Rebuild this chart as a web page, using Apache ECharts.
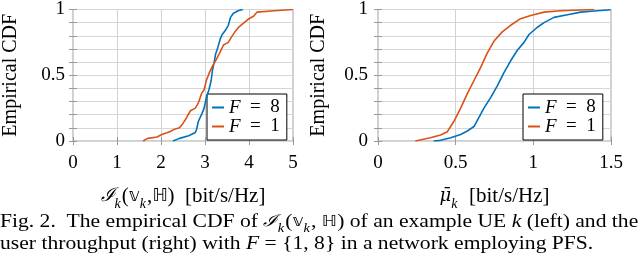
<!DOCTYPE html>
<html><head><meta charset="utf-8">
<script src="https://cdn.jsdelivr.net/npm/echarts@6/dist/echarts.min.js"></script>
<style>html,body{margin:0;padding:0;background:#fff}#c{width:640px;height:257px}</style>
</head><body><div id="c"></div>
<script>
// Left panel: empirical CDF of I_k(v_k, H)
const leftF8X = [2.27,2.42,2.63,2.78,2.81,2.85,2.92,2.98,3.03,3.09,3.14,3.17,3.21,3.24,3.29,3.35,3.39,3.46,3.53,3.58,3.64,3.75,3.86];
const leftF8Y = [0,0.02,0.04,0.064,0.09,0.15,0.20,0.25,0.33,0.39,0.46,0.54,0.60,0.66,0.71,0.78,0.81,0.84,0.88,0.94,0.97,0.99,1.0];
const leftF1X = [1.59,1.70,1.91,2.02,2.20,2.31,2.42,2.49,2.56,2.60,2.67,2.78,2.85,2.92,2.98,3.03,3.10,3.17,3.24,3.32,3.42,3.53,3.60,3.68,3.78,3.89,4.00,4.11,4.18,4.58,5.0];
const leftF1Y = [0,0.02,0.03,0.05,0.07,0.09,0.10,0.13,0.165,0.19,0.23,0.25,0.29,0.36,0.39,0.46,0.52,0.57,0.61,0.66,0.73,0.75,0.79,0.83,0.87,0.90,0.93,0.95,0.98,0.99,1.0];
// Right panel: empirical CDF of user throughput
const rightF8X = [0.358,0.403,0.468,0.532,0.575,0.618,0.65,0.682,0.725,0.768,0.811,0.854,0.897,0.94,0.972,1.026,1.069,1.133,1.219,1.305,1.412,1.498];
const rightF8Y = [0,0.005,0.025,0.05,0.076,0.11,0.18,0.25,0.33,0.42,0.52,0.61,0.69,0.75,0.81,0.865,0.90,0.94,0.96,0.98,0.99,0.998];
const rightF1X = [0.24,0.337,0.403,0.446,0.489,0.532,0.575,0.618,0.661,0.704,0.747,0.80,0.854,0.918,0.983,1.069,1.176,1.39];
const rightF1Y = [0,0.025,0.045,0.07,0.15,0.25,0.36,0.46,0.56,0.67,0.76,0.83,0.88,0.93,0.955,0.98,0.99,1.0];
const seriesNames = ['F = 8', 'F = 1'];
const leftXTicks = [0,1,2,3,4,5];
const rightXTicks = [0,0.5,1,1.5];
const yTicks = [0,0.5,1];

const BLUE = '#0072BD', ORANGE = '#D95319';
const SERIF = 'Liberation Serif, Times New Roman, serif';
const DSERIF = 'DejaVu Serif, serif';
const DSANS = 'DejaVu Sans, sans-serif';
const zip = (xs, ys) => xs.map((x, i) => [x, ys[i]]);

const rich = {
  n: {fontFamily: SERIF, fontSize: 21, color: '#000'},
  i: {fontFamily: DSERIF, fontSize: 18, fontStyle: 'italic', color: '#000'},
  m: {fontFamily: DSERIF, fontSize: 19, fontStyle: 'italic', color: '#000'},
  d: {fontFamily: DSANS, fontSize: 18, color: '#000'},
  sub: {fontFamily: SERIF, fontSize: 14, fontStyle: 'italic', color: '#000', verticalAlign: 'bottom', padding: [0,1,-4,0]}
};
const capRich = {
  n: {fontFamily: SERIF, fontSize: 18, color: '#000'},
  i: {fontFamily: SERIF, fontSize: 18, fontStyle: 'italic', color: '#000'},
  m: {fontFamily: DSERIF, fontSize: 16, fontStyle: 'italic', color: '#000'},
  d: {fontFamily: DSANS, fontSize: 15, color: '#000'},
  sub: {fontFamily: SERIF, fontSize: 12, fontStyle: 'italic', color: '#000', verticalAlign: 'bottom', padding: [0,1,-4,0]}
};

function xAxisMain(gi, max, interval, ticks, name, nameGap) {
  return {
    type: 'value', gridIndex: gi, min: 0, max: max, interval: interval,
    axisLine: {show: false},
    axisTick: {show: true, inside: true, length: 4, lineStyle: {color: '#999'}},
    axisLabel: {fontFamily: SERIF, fontSize: 19, color: '#000', margin: 13,
      formatter: v => ticks.includes(+v.toFixed(3)) ? String(+v.toFixed(3)) : ''},
    splitLine: {show: true, lineStyle: {color: '#d2d2d2', width: 1}},
    name: name, nameLocation: 'middle', nameGap: nameGap,
    nameTextStyle: {fontFamily: SERIF, fontSize: 21, rich: rich}
  };
}
function xAxisTop(gi, max, interval) {
  return {type: 'value', gridIndex: gi, position: 'top', min: 0, max: max, interval: interval,
    axisLine: {show: false}, axisLabel: {show: false}, splitLine: {show: false},
    axisTick: {show: true, inside: true, length: 4, lineStyle: {color: '#999'}}};
}
function yAxisMain(gi, nameGap, labelMargin) {
  return {
    type: 'value', gridIndex: gi, min: 0, max: 1, interval: 0.5,
    axisLine: {show: false},
    axisTick: {show: true, inside: true, length: 4, lineStyle: {color: '#999'}},
    minorTick: {show: true, splitNumber: 5, length: 4, lineStyle: {color: '#999'}},
    axisLabel: {fontFamily: SERIF, fontSize: 19, color: '#000', margin: labelMargin,
      formatter: v => String(v)},
    splitLine: {show: true, lineStyle: {color: '#d6d6d6'}},
    minorSplitLine: {show: true, lineStyle: {color: '#d6d6d6'}},
    name: 'Empirical CDF', nameLocation: 'middle', nameRotate: 90, nameGap: nameGap,
    nameTextStyle: {fontFamily: SERIF, fontSize: 20, color: '#000'}
  };
}
function yAxisRight(gi) {
  return {type: 'value', gridIndex: gi, position: 'right', min: 0, max: 1, interval: 0.5,
    axisLine: {show: false}, axisLabel: {show: false}, splitLine: {show: false},
    axisTick: {show: true, inside: true, length: 4, lineStyle: {color: '#999'}},
    minorTick: {show: true, splitNumber: 5, length: 4, lineStyle: {color: '#999'}}};
}
function legend(left, top) {
  return {
    data: seriesNames, orient: 'vertical', left: left, top: top,
    backgroundColor: '#fff', borderColor: '#000', borderWidth: 1, borderRadius: 0,
    padding: [4, 7, 4, 5], itemGap: 0, itemWidth: 12, itemHeight: 2, icon: 'rect',
    selectedMode: false,
    formatter: n => '{i|F}{n|  =  ' + n.split('= ')[1] + '}',
    textStyle: {fontFamily: SERIF, fontSize: 19, color: '#000', lineHeight: 17,
      rich: {i: {fontFamily: SERIF, fontSize: 19, fontStyle: 'italic', lineHeight: 17},
             n: {fontFamily: SERIF, fontSize: 19, lineHeight: 17}}}
  };
}
function line(name, color, xi, yi, xs, ys) {
  return {type: 'line', name: name, xAxisIndex: xi, yAxisIndex: yi,
    data: zip(xs, ys), showSymbol: false, symbol: 'none',
    lineStyle: {color: color, width: 1.6}, itemStyle: {color: color}, z: 5, animation: false};
}

const chart = echarts.init(document.getElementById('c'), null, {renderer: 'canvas'});
chart.setOption({
  animation: false,
  grid: [
    {left: 61, top: 9, width: 232, height: 132, show: true, borderColor: '#a0a0a0', borderWidth: 1, backgroundColor: 'transparent'},
    {left: 378, top: 9, width: 233, height: 132, show: true, borderColor: '#a0a0a0', borderWidth: 1, backgroundColor: 'transparent'}
  ],
  xAxis: [
    xAxisMain(0, 5, 1, leftXTicks, '{m|ℐ}{sub|k}{n|(}{d|𝕧}{sub|k}{n|,}{d|ℍ}{n|)  [bit/s/Hz]}', 45),
    xAxisMain(1, 1.5, 0.5, rightXTicks, '{i|μ̄}{sub|k}{n|  [bit/s/Hz]}', 45),
    xAxisTop(0, 5, 1), xAxisTop(1, 1.5, 0.5)
  ],
  yAxis: [yAxisMain(0, 52, 8), yAxisMain(1, 49, 10), yAxisRight(0), yAxisRight(1)],
  legend: [legend(207, 94), legend(523, 94)],
  series: [
    line(seriesNames[0], BLUE, 0, 0, leftF8X, leftF8Y),
    line(seriesNames[1], ORANGE, 0, 0, leftF1X, leftF1Y),
    line(seriesNames[0], BLUE, 1, 1, rightF8X, rightF8Y),
    line(seriesNames[1], ORANGE, 1, 1, rightF1X, rightF1Y)
  ],
  graphic: [
    {type: 'text', x: 0, y: 213, scaleX: 1.2, scaleY: 1, originX: 0, originY: 0, style: {
      font: '18px Liberation Serif', fill: '#000',
      text: '{n|Fig. 2.  The empirical CDF of }{m|ℐ}{sub|k}{n|(}{d|𝕧}{sub|k}{n|, }{d|ℍ}{n|) of an example UE }{i|k}{n| (left) and the}',
      rich: capRich}},
    {type: 'text', x: 0, y: 235, scaleX: 1.2, scaleY: 1, originX: 0, originY: 0, style: {
      font: '18px Liberation Serif', fill: '#000',
      text: '{n|user throughput (right) with }{i|F}{n| = }{1, 8}{n| in a network employing PFS.}',
      rich: capRich}}
  ]
});
</script></body></html>
